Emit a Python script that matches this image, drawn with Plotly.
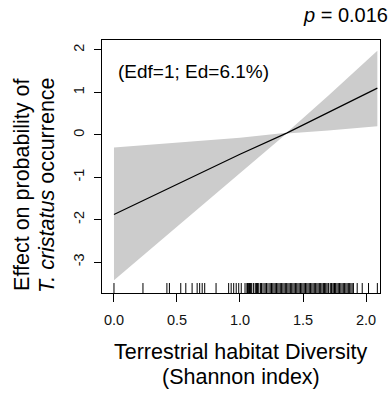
import plotly.graph_objects as go

# Smooth term (GAM partial effect)
x_vals = [0.0, 0.5, 1.0, 1.37, 1.7, 2.09]
fit_vals = [-1.88, -1.17, -0.46, 0.04, 0.52, 1.10]
upper_vals = [-0.30, -0.18, -0.07, 0.05, 0.92, 1.98]
lower_vals = [-3.43, -2.17, -0.91, 0.03, 0.10, 0.20]

# Rug of observed values
rug_vals = [0.0, 0.23, 0.42, 0.44, 0.53, 0.57, 0.62, 0.66, 0.68, 0.70, 0.72, 0.81,
            0.91, 0.93, 0.95, 0.97, 0.99, 1.01, 1.04,
            1.055, 1.06, 1.065, 1.07, 1.075, 1.08, 1.085, 1.09, 1.105, 1.11,
            1.125, 1.13, 1.135, 1.14, 1.145, 1.16, 1.165, 1.17, 1.175, 1.19, 1.20,
            1.21, 1.215, 1.23, 1.24, 1.25, 1.26, 1.27, 1.28, 1.29, 1.30, 1.31, 1.32,
            1.33, 1.34, 1.35, 1.36, 1.37, 1.38, 1.39, 1.40, 1.41, 1.42, 1.43, 1.44,
            1.45, 1.46, 1.47, 1.48, 1.49, 1.50, 1.51, 1.52, 1.53, 1.54, 1.55, 1.56,
            1.57, 1.58, 1.59, 1.60, 1.61, 1.62, 1.63, 1.64, 1.65, 1.66, 1.665, 1.67,
            1.68, 1.69, 1.70, 1.705, 1.72, 1.725, 1.73, 1.74, 1.75, 1.755, 1.76,
            1.77, 1.78, 1.79, 1.80, 1.81, 1.82, 1.83, 1.84, 1.85, 1.86, 1.87, 1.88,
            1.89, 1.90, 1.93, 1.97, 2.02, 2.09]

x_ticks = [0.0, 0.5, 1.0, 1.5, 2.0]
x_ticklabels = ["0.0", "0.5", "1.0", "1.5", "2.0"]
y_ticks = [-3, -2, -1, 0, 1, 2]
y_ticklabels = ["-3", "-2", "-1", "0", "1", "2"]

x_range = [-0.095, 2.111]
y_range = [-3.73, 2.235]
rug_len = 0.235

FONT = "Liberation Sans, Arial, sans-serif"

fig = go.Figure()
fig.add_trace(go.Scatter(x=x_vals, y=lower_vals, mode="lines", line=dict(width=0, color="#cccccc"),
                         showlegend=False, hoverinfo="skip"))
fig.add_trace(go.Scatter(x=x_vals, y=upper_vals, mode="lines", line=dict(width=0, color="#cccccc"),
                         fill="tonexty", fillcolor="#cccccc", showlegend=False, hoverinfo="skip"))
fig.add_trace(go.Scatter(x=x_vals, y=fit_vals, mode="lines", line=dict(width=1.2, color="black"),
                         showlegend=False))

rx, ry = [], []
for v in rug_vals:
    rx += [v, v, None]
    ry += [y_range[0], y_range[0] + rug_len, None]
fig.add_trace(go.Scatter(x=rx, y=ry, mode="lines", line=dict(width=1, color="black"),
                         showlegend=False, hoverinfo="skip"))

fig.update_layout(
    width=390, height=401,
    margin=dict(l=102, r=10, t=40, b=108),
    plot_bgcolor="white", paper_bgcolor="white",
    font=dict(family=FONT, color="black"),
    xaxis=dict(range=x_range, tickvals=x_ticks, ticktext=x_ticklabels, showgrid=False,
               zeroline=False, showline=True, mirror=True, linecolor="black", linewidth=1,
               ticks="outside", ticklen=8, tickcolor="black", tickwidth=1,
               tickfont=dict(size=14.5, color="#111", family=FONT), ticklabelstandoff=6),
    yaxis=dict(range=y_range, tickvals=y_ticks, ticktext=y_ticklabels, showgrid=False,
               zeroline=False, showline=True, mirror=True, linecolor="black", linewidth=1,
               ticks="outside", ticklen=7, tickcolor="black", tickwidth=1, tickangle=-90,
               tickfont=dict(size=14.5, color="#111", family=FONT), ticklabelstandoff=4),
    annotations=[
        dict(text="(Edf=1; Ed=6.1%)", xref="paper", yref="paper", x=0.05, y=0.875,
             xanchor="left", yanchor="middle", showarrow=False, font=dict(size=19)),
        dict(text="<i>p</i> = 0.016", xref="paper", yref="paper", x=1.035, y=1.099,
             xanchor="right", yanchor="middle", showarrow=False, font=dict(size=20)),
        dict(text="Terrestrial habitat Diversity", xref="paper", yref="paper", x=0.5, y=-0.233,
             xanchor="center", yanchor="middle", showarrow=False, font=dict(size=21.5)),
        dict(text="(Shannon index)", xref="paper", yref="paper", x=0.5, y=-0.332,
             xanchor="center", yanchor="middle", showarrow=False, font=dict(size=21.5)),
        dict(text="Effect on probability of", xref="paper", yref="paper", x=-0.288, y=0.427,
             xanchor="center", yanchor="middle", textangle=-90, showarrow=False, font=dict(size=21.5)),
        dict(text="<i>T. cristatus</i> occurrence", xref="paper", yref="paper", x=-0.198, y=0.427,
             xanchor="center", yanchor="middle", textangle=-90, showarrow=False, font=dict(size=21.5)),
    ],
)

fig.write_html("out.html")
